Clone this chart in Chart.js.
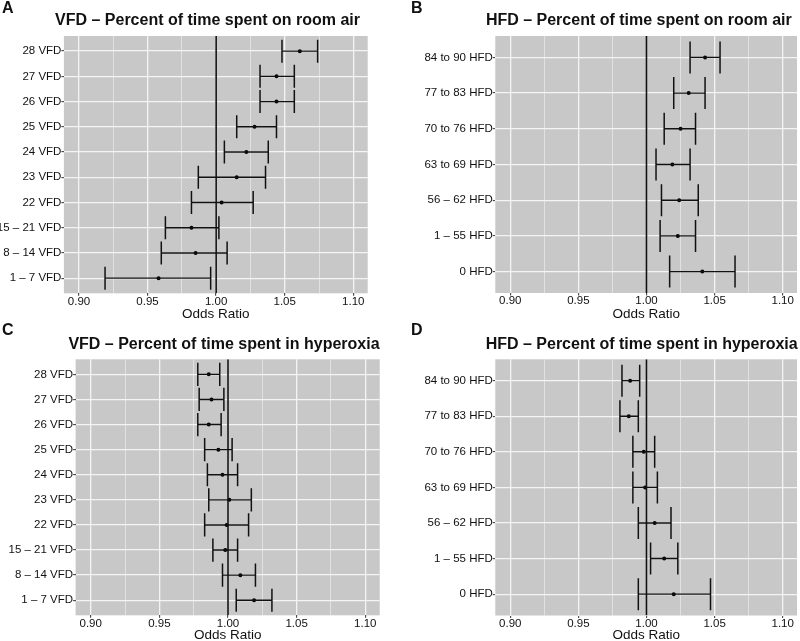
<!DOCTYPE html>
<html>
<head>
<meta charset="utf-8">
<script src="https://cdn.jsdelivr.net/npm/chart.js@4.4.1/dist/chart.umd.min.js"></script>
<style>
  html, body { margin: 0; padding: 0; background: #ffffff; }
  #wrap { position: relative; width: 800px; height: 641px; overflow: hidden; background: #fff; }
  canvas { position: absolute; }
  .ttl { position: absolute; width: 500px; text-align: center; font: bold 16px/16px 'Liberation Sans', Arial, Helvetica, sans-serif; color: #111; white-space: nowrap; }
  .let { position: absolute; font: bold 16px/16px 'Liberation Sans', Arial, Helvetica, sans-serif; color: #111; }
</style>
</head>
<body>
<div id="wrap">
  <canvas id="cA" width="400" height="320" style="left:0px;top:0px;width:400px;height:320px"></canvas>
  <canvas id="cB" width="400" height="320" style="left:400px;top:0px;width:400px;height:320px"></canvas>
  <canvas id="cC" width="400" height="321" style="left:0px;top:320px;width:400px;height:321px"></canvas>
  <canvas id="cD" width="400" height="321" style="left:400px;top:320px;width:400px;height:321px"></canvas>

  <div class="let" style="left:2px;top:0px">A</div>
  <div class="let" style="left:411px;top:0px">B</div>
  <div class="let" style="left:2px;top:322px">C</div>
  <div class="let" style="left:411px;top:322px">D</div>

  <div class="ttl" style="left:-42.5px;top:12px">VFD – Percent of time spent on room air</div>
  <div class="ttl" style="left:388.8px;top:12px">HFD – Percent of time spent on room air</div>
  <div class="ttl" style="left:-26px;top:335.5px">VFD – Percent of time spent in hyperoxia</div>
  <div class="ttl" style="left:391.7px;top:335.5px">HFD – Percent of time spent in hyperoxia</div>
</div>

<script>
// ---------- Categories (top to bottom as shown) ----------
const vfdLabels = ['28 VFD', '27 VFD', '26 VFD', '25 VFD', '24 VFD', '23 VFD', '22 VFD', '15 – 21 VFD', '8 – 14 VFD', '1 – 7 VFD'];
const hfdLabels = ['84 to 90 HFD', '77 to 83 HFD', '70 to 76 HFD', '63 to 69 HFD', '56 – 62 HFD', '1 – 55 HFD', '0 HFD'];

// ---------- Panel A: VFD, room air ----------
const vfdRoomAirOR = [1.061, 1.044, 1.044, 1.028, 1.022, 1.015, 1.004, 0.982, 0.985, 0.958];
const vfdRoomAirLo = [1.048, 1.032, 1.032, 1.015, 1.006, 0.987, 0.982, 0.963, 0.960, 0.919];
const vfdRoomAirHi = [1.074, 1.057, 1.057, 1.044, 1.038, 1.036, 1.027, 1.002, 1.008, 0.996];

// ---------- Panel B: HFD, room air ----------
const hfdRoomAirOR = [1.043, 1.031, 1.025, 1.019, 1.024, 1.023, 1.041];
const hfdRoomAirLo = [1.032, 1.020, 1.013, 1.007, 1.011, 1.010, 1.017];
const hfdRoomAirHi = [1.054, 1.043, 1.036, 1.032, 1.038, 1.036, 1.065];

// ---------- Panel C: VFD, hyperoxia ----------
const vfdHyperOR = [0.986, 0.988, 0.986, 0.993, 0.996, 1.001, 0.999, 0.998, 1.009, 1.019];
const vfdHyperLo = [0.978, 0.979, 0.978, 0.983, 0.985, 0.986, 0.983, 0.989, 0.996, 1.006];
const vfdHyperHi = [0.994, 0.997, 0.995, 1.003, 1.007, 1.017, 1.015, 1.007, 1.020, 1.032];

// ---------- Panel D: HFD, hyperoxia ----------
const hfdHyperOR = [0.988, 0.987, 0.998, 0.999, 1.006, 1.013, 1.020];
const hfdHyperLo = [0.982, 0.9805, 0.990, 0.990, 0.994, 1.003, 0.994];
const hfdHyperHi = [0.995, 0.994, 1.006, 1.008, 1.018, 1.023, 1.047];

// ---------- Axis ----------
const xMin = 0.889, xMax = 1.1105, xStep = 0.025;
const referenceOR = 1.0;
const xTitle = 'Odds Ratio';

const FONT = "'Liberation Sans', Arial, Helvetica, sans-serif";
Chart.defaults.font.family = FONT;

const isMajor = v => Math.abs(v * 20 - Math.round(v * 20)) < 1e-6;

const bgPlugin = {
  id: 'panelBg',
  beforeDraw(chart) {
    const { ctx, chartArea: a } = chart;
    ctx.save();
    ctx.fillStyle = '#c8c8c8';
    ctx.fillRect(a.left, a.top, a.right - a.left, a.bottom - a.top);
    ctx.restore();
  }
};

function makePanel(id, labels, est, lo, hi, box) {
  const n = labels.length;
  const yOf = i => n - 1 - i;
  const datasets = [];
  // reference line at OR = 1
  datasets.push({
    data: [{ x: referenceOR, y: -0.6 }, { x: referenceOR, y: n - 0.4 }],
    showLine: true, borderColor: '#111', borderWidth: 1.6, pointRadius: 0
  });
  // horizontal CI segments
  labels.forEach((_, i) => {
    datasets.push({
      data: [{ x: lo[i], y: yOf(i) }, { x: hi[i], y: yOf(i) }],
      showLine: true, borderColor: '#111', borderWidth: 1.4, pointRadius: 0
    });
  });
  // caps
  datasets.push({
    data: labels.map((_, i) => ({ x: lo[i], y: yOf(i) })).concat(labels.map((_, i) => ({ x: hi[i], y: yOf(i) }))),
    showLine: false, pointStyle: 'line', rotation: 90, pointRadius: box.capR,
    borderColor: '#111', borderWidth: 1.5
  });
  // estimates
  datasets.push({
    data: labels.map((_, i) => ({ x: est[i], y: yOf(i) })),
    showLine: false, pointStyle: 'circle', pointRadius: 2,
    backgroundColor: '#000', borderColor: '#000', borderWidth: 0
  });

  return new Chart(document.getElementById(id), {
    type: 'scatter',
    data: { datasets },
    plugins: [bgPlugin],
    options: {
      responsive: false,
      animation: false,
      events: [],
      layout: { autoPadding: false, padding: { left: 0, top: box.top, right: box.W - box.right, bottom: 0 } },
      plugins: { legend: { display: false }, tooltip: { enabled: false }, title: { display: false } },
      scales: {
        x: {
          type: 'linear', position: 'bottom', bounds: 'ticks',
          min: xMin, max: xMax,
          afterFit: s => { s.height = box.H - box.bottom; },
          border: { display: false },
          grid: {
            drawOnChartArea: true, drawTicks: true, tickLength: 2.5,
            color: ctx => (ctx.tick && isMajor(ctx.tick.value)) ? '#f4f4f4' : '#ececec',
            lineWidth: ctx => (ctx.tick && isMajor(ctx.tick.value)) ? 1.3 : 0.7,
            tickColor: ctx => (ctx.tick && isMajor(ctx.tick.value)) ? '#333' : 'rgba(0,0,0,0)',
            tickWidth: 1
          },
          ticks: {
            stepSize: xStep, includeBounds: false, autoSkip: false, maxRotation: 0, minRotation: 0,
            padding: 0, color: '#111', font: { size: 11.5, lineHeight: 1 },
            callback: v => isMajor(v) ? v.toFixed(2) : ''
          },
          title: { display: true, text: xTitle, color: '#111', font: { size: 13.5, lineHeight: 0.8 }, padding: { top: 0, bottom: 0 } }
        },
        y: {
          type: 'linear', position: 'left', bounds: 'ticks',
          min: -0.6, max: n - 0.4,
          afterFit: s => { s.width = box.left; },
          border: { display: false },
          grid: {
            drawOnChartArea: true, drawTicks: true, tickLength: 2.5,
            color: '#f4f4f4', lineWidth: 1.3, tickColor: '#333', tickWidth: 1
          },
          ticks: {
            stepSize: 1, includeBounds: false, autoSkip: false, padding: 0,
            color: '#111', font: { size: 11.5, lineHeight: 1 },
            callback: v => {
              const k = Math.round(v);
              return (Math.abs(v - k) < 1e-6 && k >= 0 && k < n) ? labels[n - 1 - k] : '';
            }
          }
        }
      }
    }
  });
}

makePanel('cA', vfdLabels, vfdRoomAirOR, vfdRoomAirLo, vfdRoomAirHi,
  { W: 400, H: 320, left: 63.9, right: 367.7, top: 36, bottom: 293.3, capR: 11.5 });
makePanel('cB', hfdLabels, hfdRoomAirOR, hfdRoomAirLo, hfdRoomAirHi,
  { W: 400, H: 320, left: 95.3, right: 397, top: 36, bottom: 293, capR: 16 });
makePanel('cC', vfdLabels, vfdHyperOR, vfdHyperLo, vfdHyperHi,
  { W: 400, H: 321, left: 75.6, right: 379.7, top: 39.3, bottom: 295.3, capR: 11.6 });
makePanel('cD', hfdLabels, hfdHyperOR, hfdHyperLo, hfdHyperHi,
  { W: 400, H: 321, left: 95.3, right: 397, top: 39.3, bottom: 295.5, capR: 16 });
</script>
</body>
</html>
